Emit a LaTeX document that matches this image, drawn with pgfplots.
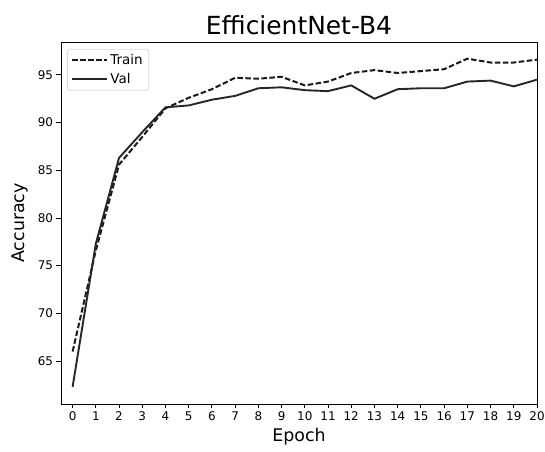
\documentclass[border=0pt]{standalone}
\usepackage{pgfplots}
\pgfplotsset{compat=1.18}
\usepackage{fontspec}
\setmainfont{DejaVu Sans}

\pgfplotstableread{
epoch train val
0  66.0 62.3
1  76.6 77.3
2  85.6 86.3
3  88.5 89.0
4  91.5 91.6
5  92.6 91.8
6  93.5 92.4
7  94.7 92.8
8  94.6 93.6
9  94.8 93.7
10 93.9 93.4
11 94.3 93.3
12 95.2 93.9
13 95.5 92.5
14 95.2 93.5
15 95.4 93.6
16 95.6 93.6
17 96.7 94.3
18 96.3 94.4
19 96.3 93.8
20 96.6 94.5
}\acc

\begin{document}
\begin{tikzpicture}
\begin{axis}[
    scale only axis,
    width=476bp, height=362bp,
    xmin=-0.5, xmax=20,
    ymin=60.5, ymax=98.45,
    xtick={0,1,...,20},
    ytick={65,70,...,95},
    tick align=outside,
    xtick pos=bottom, ytick pos=left,
    major tick length=4.5bp,
    tick style={black, line width=0.9bp},
    axis line style={line width=0.9bp},
    ticklabel style={font=\fontsize{12}{14}\selectfont},
    /pgf/number format/assume math mode=true,
    xlabel={Epoch},
    ylabel={Accuracy},
    label style={font=\fontsize{17.5}{20}\selectfont},
    ylabel style={yshift=3bp},
    title={EfficientNet-B4},
    title style={font=\fontsize{25}{28}\selectfont, yshift=-2bp},
    legend cell align=left,
    legend style={font=\fontsize{13.5}{15}\selectfont, draw=black!15, rounded corners=2.5bp,
        at={(0.0126,0.981)}, anchor=north west, inner xsep=4bp, inner ysep=3bp, row sep=3.5bp,
        line width=0.8bp},
    legend image code/.code={\draw[#1] (0bp,0bp) -- (26bp,0bp); \path (0bp,0bp) -- (35bp,0bp);},
]
\addplot[black!90, line width=2bp, dash pattern=on 5.5bp off 2.5bp] table[x=epoch, y=train] {\acc};
\addplot[black!85, line width=1.9bp] table[x=epoch, y=val] {\acc};
\legend{Train, Val}
\end{axis}
\pgfresetboundingbox
\path ([shift={(-61bp,-48bp)}]current axis.south west) rectangle ([shift={(8bp,42bp)}]current axis.north east);
\end{tikzpicture}
\end{document}
